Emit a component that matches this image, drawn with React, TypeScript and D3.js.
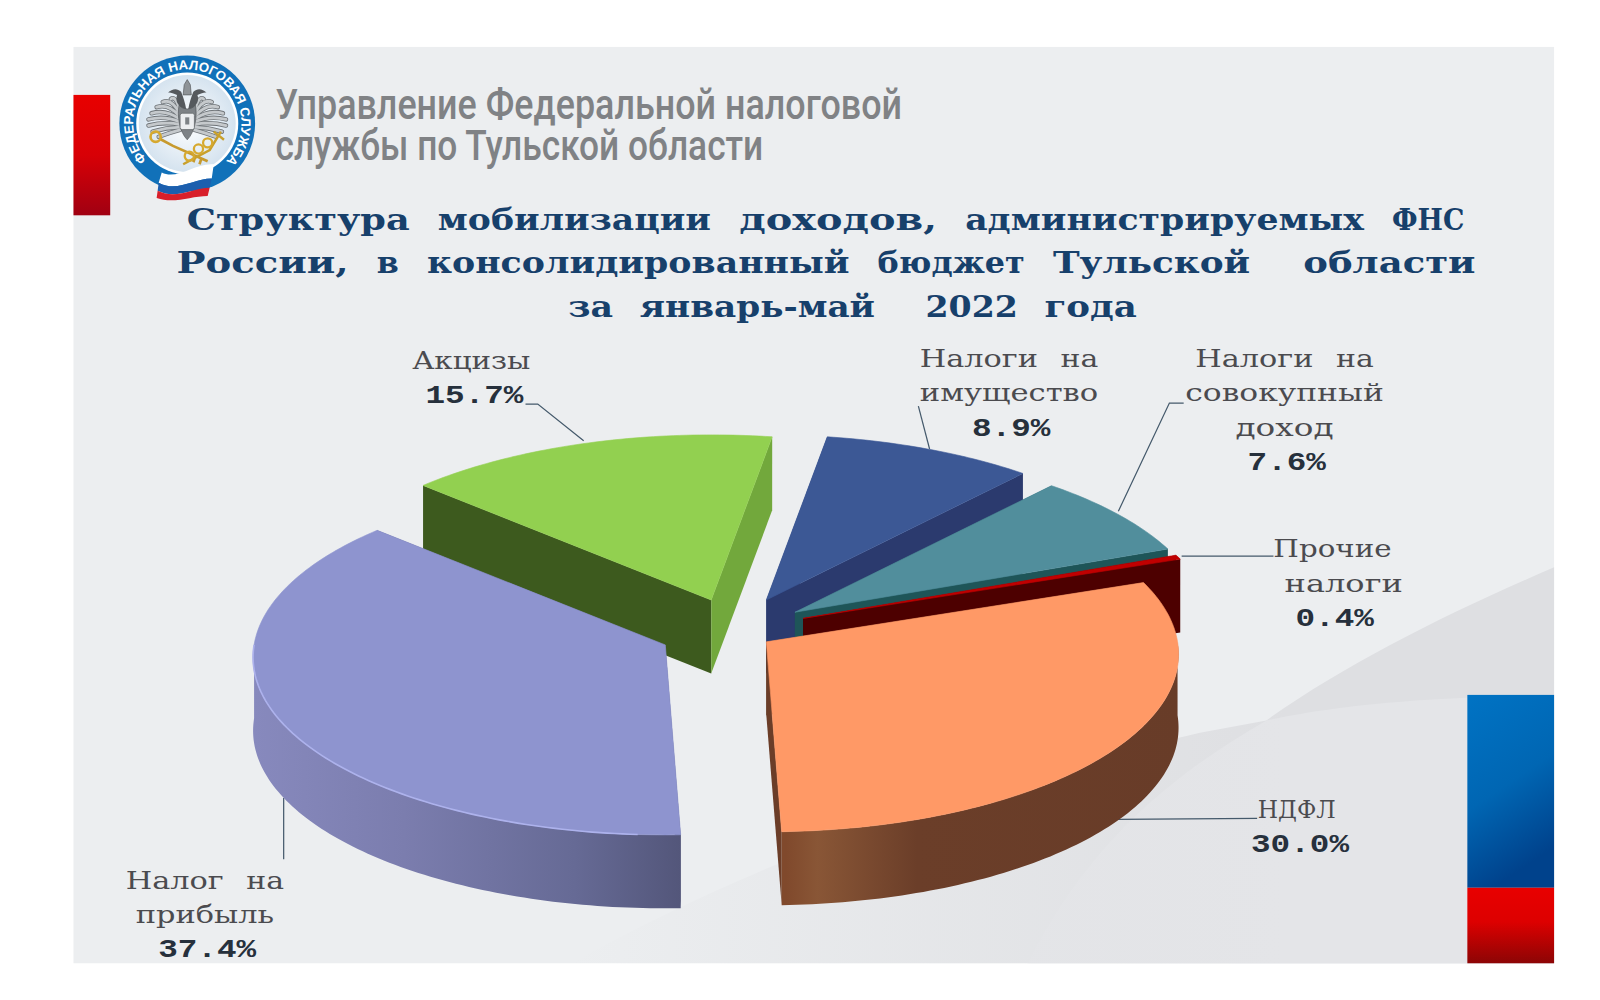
import React from "react";
import * as d3 from "d3";

const categories = ["НДФЛ", "Налог на прибыль", "Акцизы", "Налоги на имущество", "Налоги на совокупный доход", "Прочие налоги"];
const shares = [30.0, 37.4, 15.7, 8.9, 7.6, 0.4];
const titleLines = [
  "Структура мобилизации доходов, администрируемых ФНС",
  "России, в консолидированный бюджет Тульской  области",
  "за январь-май  2022 года",
];
const headerLines = ["Управление Федеральной налоговой", "службы по Тульской области"];
const labelLines = [["НДФЛ"], ["Налог на", "прибыль"], ["Акцизы"], ["Налоги на", "имущество"], ["Налоги на", "совокупный", "доход"], ["Прочие", "налоги"]];

// layout (not data)
const VW = 1568, VH = 980;
const START = (70 * Math.PI) / 180;
const RX = 403, RY = 174, DEPTH = 72, PERSP = 0.07;
const apexes: [number, number][] = [[751, 629], [652, 632], [697, 588], [751, 588], [779, 600], [787, 606]];
const topFill = ["#ff9966", "#8e94cf", "#92d050", "#3c5895", "#518e9c", "#c00000"];
const bandFill = ["url(#bandO)", "url(#bandP)", "#5f8a30", "#2b3a6e", "#1e5558", "#4d0000"];
const startWall = ["#5e3320", "#555878", "#3d5a1e", "#2b3a6e", "#1e5558", "#4d0000"];
const endWall = ["#6b3d28", "#555878", "#72a83c", "#2b3a6e", "#1e5558", "#4d0000"];
const drawOrder = [3, 4, 5, 0, 2, 1];
const labelPos: { cx: number[]; y: number[] }[] = [
  { cx: [1272, 1274], y: [802, 835] },
  { cx: [202, 202, 203], y: [871, 905, 938] },
  { cx: [463, 465], y: [362, 395] },
  { cx: [990, 990, 991], y: [360, 393, 427] },
  { cx: [1260, 1260, 1260, 1261], y: [360, 393, 427, 461] },
  { cx: [1307, 1318, 1308], y: [546, 580, 613] },
];
const leaders = [
  "M1232,802L1095,803",
  "M278,782L278,842",
  "M515,396L527,396L572,432",
  "M900,398L911,440",
  "M1160,395L1146,395L1096,501",
  "M1248,545L1158,545",
];

const pieGen = d3.pie<number>().sort(null).startAngle(START).endAngle(START + 2 * Math.PI);
const arcs = pieGen(shares);
const lineGen = d3.line<[number, number]>();

function project(ax: number, ay: number, a: number): [number, number] {
  const p = 1 - PERSP * Math.cos(a);
  return [ax + RX * p * Math.sin(a), ay - RY * p * Math.cos(a)];
}
function arcPts(ax: number, ay: number, a0: number, a1: number, dy = 0): [number, number][] {
  const n = Math.max(2, Math.ceil(((a1 - a0) * 180) / Math.PI));
  return d3.range(n + 1).map((i) => {
    const [x, y] = project(ax, ay, a0 + ((a1 - a0) * i) / n);
    return [x, y + dy] as [number, number];
  });
}
function wall(ax: number, ay: number, a: number): string {
  const [x, y] = project(ax, ay, a);
  return lineGen([[ax, ay], [x, y], [x, y + DEPTH], [ax, ay + DEPTH]])! + "Z";
}

function Slice({ i }: { i: number }) {
  const [ax, ay] = apexes[i];
  const { startAngle: a0, endAngle: a1 } = arcs[i];
  const top = arcPts(ax, ay, a0, a1);
  const f0 = Math.max(a0, Math.PI / 2), f1 = Math.min(a1, (Math.PI * 3) / 2);
  const hasBand = f1 > f0;
  return (
    <g>
      <path d={wall(ax, ay, a0)} fill={startWall[i]} />
      <path d={wall(ax, ay, a1)} fill={endWall[i]} />
      {hasBand && (
        <path d={lineGen([...arcPts(ax, ay, f0, f1), ...arcPts(ax, ay, f0, f1, DEPTH).reverse()])! + "Z"} fill={bandFill[i]} />
      )}
      <path d={lineGen([[ax, ay], ...top])! + "Z"} fill={topFill[i]} stroke={topFill[i]} strokeWidth={0.6} />
      {i === 1 && <path d={lineGen(arcPts(ax, ay, Math.PI * 1.02, Math.PI * 1.5))!} fill="none" stroke="#adb2ec" strokeWidth={1.6} />}
    </g>
  );
}

const monoFont = "'Liberation Mono','DejaVu Sans Mono',monospace";
const slabFont = "'DejaVu Serif',serif";

// Keeps words at typewriter positions: each word is stretched to its cells.
function PitchedText({ t, x0, pitch, y, size, weight, fill }: { t: string; x0: number; pitch: number; y: number; size: number; weight: number; fill: string }) {
  const parts: { w: string; k: number }[] = [];
  const re = /\S+/g;
  let m: RegExpExecArray | null;
  while ((m = re.exec(t))) parts.push({ w: m[0], k: m.index });
  return (
    <text y={y} fontFamily={slabFont} fontSize={size} fontWeight={weight} fill={fill}>
      {parts.map((p, n) => (
        <React.Fragment key={n}>
          {n > 0 ? " " : null}
          <tspan x={x0 + p.k * pitch} textLength={(p.w.length - 0.12) * pitch} lengthAdjust="spacingAndGlyphs">{p.w}</tspan>
        </React.Fragment>
      ))}
    </text>
  );
}

function Label({ i }: { i: number }) {
  const lines = [...labelLines[i], `${shares[i].toFixed(1)}%`];
  const pos = labelPos[i];
  return (
    <g>
      {lines.map((t, k) => {
        const isNum = k === lines.length - 1;
        if (isNum) {
          const len = t.length * 19.2;
          return (
            <text key={k} x={pos.cx[k] - len / 2} y={pos.y[k]} textLength={len} lengthAdjust="spacingAndGlyphs"
              fontFamily={monoFont} fontSize={25} fontWeight={700} fill="#26303c">{t}</text>
          );
        }
        const pitch = 19.7;
        return <PitchedText key={k} t={t} x0={pos.cx[k] - (t.length * pitch) / 2} pitch={pitch} y={pos.y[k]} size={23} weight={400} fill="#4b4b4f" />;
      })}
    </g>
  );
}

const feathers: [number, number, number][] = [
  [-16, -20, 34], [-24, -17, 34], [-30, -12, 33], [-35, -6, 32], [-38, 0, 30], [-38, 6, 28], [-34, 12, 24], [-28, 17, 20],
];

function Logo() {
  const cx = 183.5, cy = 121;
  const ringR = 53;
  const a0 = (-132 * Math.PI) / 180, a1 = (134 * Math.PI) / 180;
  const ringPath = `M${cx + ringR * Math.sin(a0)},${cy - ringR * Math.cos(a0)} A${ringR},${ringR} 0 1 1 ${cx + ringR * Math.sin(a1)},${cy - ringR * Math.cos(a1)}`;
  const arcLen = ringR * (a1 - a0);
  return (
    <g>
      <circle cx={cx} cy={cy} r={66.5} fill="#1171b9" />
      <circle cx={cx} cy={cy} r={50} fill="#fff" />
      <circle cx={cx} cy={cy} r={47.5} fill="url(#logoIn)" />
      <path id="ringP" d={ringPath} fill="none" />
      <text fontFamily="'Liberation Sans',Roboto,sans-serif" fontWeight={700} fontSize={13} fill="#fff">
        <textPath href="#ringP" textLength={arcLen} lengthAdjust="spacing">ФЕДЕРАЛЬНАЯ НАЛОГОВАЯ СЛУЖБА</textPath>
      </text>
      <g transform={`translate(${cx},${cy - 4})`}>
        {[1, -1].map((s) => (
          <g key={s} transform={`scale(${s},1)`}>
            {feathers.map(([x, y], k) => (
              <path key={k} d={`M-7,${-8 + k * 2.6} Q${(x - 7) / 2},${y - 4} ${x},${y}`} fill="none" stroke="#6f7478" strokeWidth={4.4} strokeLinecap="round" />
            ))}
            {feathers.map(([x, y], k) => (
              <path key={k} d={`M-7,${-8 + k * 2.6} Q${(x - 7) / 2},${y - 4} ${x},${y}`} fill="none" stroke="#c5c9cc" strokeWidth={2.8} strokeLinecap="round" />
            ))}
            <path d="M-4,-10 C-9,-14 -12,-18 -10,-24 C-14,-25 -17,-27 -19,-26 C-15,-30 -10,-31 -6,-27 C-4,-22 -2,-16 -1,-10Z" fill="#55595d" />
          </g>
        ))}
        <path d="M-8,-14 C-10,-4 -8,12 0,20 C8,12 10,-4 8,-14 C4,-9 -4,-9 -8,-14Z" fill="#7d8286" stroke="#4b4f53" strokeWidth={0.6} />
        <path d="M-4,-24 L-3,-34 L0,-39 L3,-34 L4,-24Z" fill="#8e9397" stroke="#4b4f53" strokeWidth={0.6} />
        <rect x={-7} y={-6} width={14} height={16} rx={2} fill="#eceef0" stroke="#5d6266" strokeWidth={0.7} />
        <path d="M-2,-2 L2,-2 L2,5 L-2,5Z" fill="#7d8286" />
        <path d="M-27,19 L-14,26 L20,41 M8,36 L6,42 M14,38 L12,44" stroke="#c79a2e" strokeWidth={2.6} fill="none" />
        <circle cx={-31} cy={17} r={5} fill="none" stroke="#d6a92f" strokeWidth={2.6} />
        <path d="M33,12 L22,30 L-4,44 M26,12 L36,20" stroke="#c8a02c" strokeWidth={2.4} fill="none" />
        <circle cx={2} cy={36} r={4.5} fill="none" stroke="#d6a92f" strokeWidth={2.2} />
        <circle cx={11} cy={29} r={4.5} fill="none" stroke="#d6a92f" strokeWidth={2.2} />
        <circle cx={20} cy={23} r={4.5} fill="none" stroke="#d6a92f" strokeWidth={2.2} />
      </g>
      <g transform={`translate(${cx - 28},${cy + 46})`}>
        <path d="M3,2 C18,10 36,-8 54,-6 L52,8 C34,8 18,22 0,12Z" fill="#fff" />
        <path d="M0,12 C18,22 34,8 52,8 L50,17 C34,17 17,29 -1,20Z" fill="#1c5fae" />
        <path d="M-1,20 C17,29 34,17 50,17 L48,25 C32,25 15,33 -2,27Z" fill="#d81f2a" />
      </g>
    </g>
  );
}

export default function App() {
  return (
    <svg width={1600} height={1000} viewBox={`0 0 ${VW} ${VH}`} style={{ position: "absolute", left: 0, top: 0, background: "#fff" }}>
      <defs>
        <linearGradient id="bandO" gradientUnits="userSpaceOnUse" x1={770} x2={1160} y1={0} y2={0}>
          <stop offset={0} stopColor="#80492c" />
          <stop offset={0.08} stopColor="#895636" />
          <stop offset={0.33} stopColor="#6b3e29" />
          <stop offset={1} stopColor="#683c28" />
        </linearGradient>
        <linearGradient id="bandP" gradientUnits="userSpaceOnUse" x1={250} x2={668} y1={0} y2={0}>
          <stop offset={0} stopColor="#8789bd" />
          <stop offset={0.35} stopColor="#7b7dae" />
          <stop offset={0.75} stopColor="#666a95" />
          <stop offset={1} stopColor="#53567a" />
        </linearGradient>
        <linearGradient id="redL" x1={0} x2={0} y1={0} y2={1}>
          <stop offset={0} stopColor="#e80000" />
          <stop offset={0.5} stopColor="#d80006" />
          <stop offset={1} stopColor="#a00012" />
        </linearGradient>
        <linearGradient id="blueR" x1={0} x2={0.3} y1={0} y2={1}>
          <stop offset={0} stopColor="#0073c4" />
          <stop offset={0.55} stopColor="#0066b3" />
          <stop offset={1} stopColor="#00428c" />
        </linearGradient>
        <linearGradient id="redR" x1={0} x2={0} y1={0} y2={1}>
          <stop offset={0} stopColor="#e80000" />
          <stop offset={0.45} stopColor="#dd0000" />
          <stop offset={1} stopColor="#8c0505" />
        </linearGradient>
        <linearGradient id="bandBg" gradientUnits="userSpaceOnUse" x1={560} x2={1260} y1={0} y2={0}>
          <stop offset={0} stopColor="#dedfe2" stopOpacity={0} />
          <stop offset={1} stopColor="#dedfe2" />
        </linearGradient>
        <linearGradient id="lowBg" gradientUnits="userSpaceOnUse" x1={1000} x2={1260} y1={0} y2={0}>
          <stop offset={0} stopColor="#e4e5e8" stopOpacity={0.7} />
          <stop offset={1} stopColor="#e4e5e8" />
        </linearGradient>
        <radialGradient id="logoIn">
          <stop offset={0} stopColor="#ffffff" />
          <stop offset={1} stopColor="#d5e3ef" />
        </radialGradient>
      </defs>

      <rect x={72} y={46} width={1451} height={898} fill="#eceef0" />
      <path d="M1523,556 C1420,600 1320,650 1241,706 L1176,718 C1040,750 800,810 560,944 L1523,944Z" fill="url(#bandBg)" />
      <path d="M1241,706 C1310,692 1380,684 1523,681 L1523,944 L1007,944 C1060,840 1130,770 1241,706Z" fill="url(#lowBg)" />

      <rect x={72} y={93} width={36} height={118} fill="url(#redL)" />
      <rect x={1438} y={681} width={85} height={189} fill="url(#blueR)" />
      <rect x={1438} y={870} width={85} height={74} fill="url(#redR)" />

      <Logo />

      {headerLines.map((t, i) => (
        <text key={i} x={270} y={[117, 157][i]} textLength={[614, 478][i]} lengthAdjust="spacingAndGlyphs"
          fontFamily="Roboto,'Liberation Sans',sans-serif" fontWeight={500} fontSize={41} fill="#808285">{t}</text>
      ))}

      {titleLines.map((t, i) => (
        <PitchedText key={i} t={t} x0={[183, 173, 557][i]} pitch={[1255, 1276, 560][i] / t.length} y={[225, 268, 311][i]} size={29} weight={700} fill="#17406b" />
      ))}

      {leaders.map((d, i) => (
        <path key={categories[i]} d={d} fill="none" stroke="#44596b" strokeWidth={1.2} />
      ))}

      {drawOrder.map((i) => (
        <Slice key={i} i={i} />
      ))}

      {categories.map((c, i) => (
        <Label key={c} i={i} />
      ))}
    </svg>
  );
}
